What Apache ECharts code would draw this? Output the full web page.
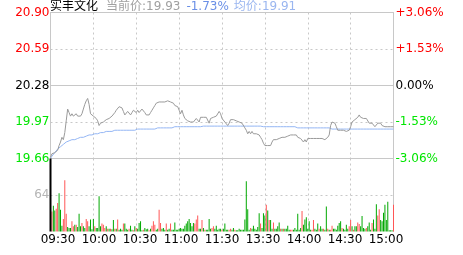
<!DOCTYPE html>
<html><head><meta charset="utf-8">
<script src="https://cdn.jsdelivr.net/npm/echarts@6/dist/echarts.min.js"></script>
<style>html,body{margin:0;padding:0;background:#fff}#c{width:463px;height:255px}</style>
</head><body><div id="c"></div>
<script>
const stockName = '实丰文化';
const prevClose = 20.28;
const priceTicks = [19.66, 19.97, 20.28, 20.59, 20.90];
const pctTicks = [-3.06, -1.53, 0, 1.53, 3.06];
const volTicks = [0, 64, 128];
const timeTicks = ['09:30','10:00','10:30','11:00','11:30','13:30','14:00','14:30','15:00'];

const price = [
19.67,19.70,19.70,19.71,19.71,19.73,19.77,19.80,19.84,19.82,
19.88,19.98,20.08,20.05,20.02,20.04,20.02,20.03,20.04,20.02,
20.03,20.02,20.04,20.08,20.12,20.15,20.17,20.12,20.04,20.03,
20.02,20.01,20.00,19.98,19.94,19.96,19.97,19.97,19.98,19.99,
19.99,20.00,20.01,20.02,20.03,20.05,20.07,20.08,20.10,20.11,
20.09,20.06,20.03,20.04,20.06,20.05,20.03,20.05,20.07,20.06,
20.05,20.07,20.05,20.06,20.08,20.07,20.05,20.03,20.02,20.03,
20.05,20.07,20.09,20.11,20.13,20.14,20.14,20.13,20.14,20.15,
20.14,20.15,20.15,20.14,20.14,20.15,20.13,20.11,20.11,20.10,
20.07,20.04,20.07,20.03,20.00,19.99,19.98,19.97,19.97,19.98,
19.97,19.98,20.00,20.00,19.97,20.01,20.01,20.01,20.00,20.01,
20.00,19.96,20.00,20.01,20.01,20.02,20.02,20.03,20.06,20.04,
20.00,19.99,19.97,19.96,19.94,19.96,19.99,19.99,19.99,19.98,
19.98,19.97,19.97,19.97,19.96,19.96,19.92,19.90,19.87,19.89,
19.87,19.89,19.87,19.87,19.87,19.86,19.86,19.84,19.82,19.79,
19.77,19.76,19.77,19.77,19.77,19.80,19.82,19.82,19.82,19.83,
19.83,19.84,19.84,19.84,19.84,19.84,19.85,19.86,19.86,19.86,
19.86,19.86,19.86,19.84,19.83,19.83,19.83,19.80,19.82,19.80,
19.83,19.83,19.83,19.82,19.83,19.83,19.83,19.84,19.83,19.83,
19.83,19.82,19.82,19.83,19.84,19.86,19.94,19.97,19.97,19.96,
19.93,19.90,19.89,19.90,19.89,19.90,19.89,19.89,19.89,19.90,
19.93,19.97,19.98,19.99,19.99,20.01,20.03,20.01,20.00,20.00,
20.00,20.00,19.99,19.96,19.97,19.96,19.96,19.93,19.94,19.96,
19.96,19.96,19.94,19.94,19.93,19.94,19.93,19.93,19.93,19.93,
19.93
];

const avgPrice = [
19.66,19.68,19.69,19.71,19.72,19.74,19.75,19.76,19.77,19.78,
19.79,19.80,19.80,19.81,19.81,19.82,19.82,19.82,19.83,19.83,
19.83,19.84,19.84,19.84,19.85,19.85,19.85,19.86,19.86,19.86,
19.86,19.87,19.87,19.87,19.87,19.88,19.88,19.88,19.88,19.89,
19.89,19.89,19.89,19.89,19.89,19.90,19.90,19.90,19.90,19.90,
19.90,19.90,19.90,19.90,19.90,19.90,19.90,19.90,19.90,19.90,
19.90,19.91,19.91,19.91,19.91,19.91,19.91,19.91,19.91,19.91,
19.91,19.91,19.91,19.91,19.91,19.92,19.92,19.92,19.92,19.92,
19.92,19.92,19.92,19.92,19.92,19.92,19.93,19.93,19.93,19.93,
19.93,19.93,19.93,19.93,19.93,19.93,19.93,19.93,19.93,19.93,
19.93,19.93,19.93,19.93,19.93,19.93,19.935,19.935,19.935,19.935,
19.935,19.935,19.935,19.935,19.935,19.935,19.935,19.935,19.935,19.935,
19.935,19.935,19.935,19.935,19.935,19.935,19.935,19.935,19.935,19.935,
19.935,19.935,19.935,19.935,19.935,19.935,19.935,19.935,19.935,19.935,
19.935,19.935,19.935,19.935,19.935,19.935,19.935,19.935,19.935,19.93,
19.93,19.93,19.93,19.93,19.93,19.93,19.93,19.93,19.93,19.93,
19.93,19.93,19.93,19.93,19.93,19.93,19.93,19.93,19.93,19.93,
19.93,19.93,19.92,19.92,19.92,19.92,19.92,19.92,19.92,19.92,
19.92,19.92,19.92,19.92,19.92,19.92,19.92,19.92,19.92,19.92,
19.92,19.92,19.92,19.92,19.92,19.92,19.91,19.91,19.91,19.91,
19.91,19.91,19.91,19.91,19.91,19.91,19.91,19.91,19.91,19.91,
19.91,19.91,19.91,19.91,19.91,19.91,19.91,19.91,19.91,19.91,
19.91,19.91,19.91,19.91,19.91,19.91,19.91,19.91,19.91,19.91,
19.91,19.91,19.91,19.91,19.91,19.91,19.91,19.91,19.91,19.91,
19.91
];

const volume = [
300,35,45,37,40,50,67,38,10,22,
90,31,8,6,6,18,9,12,12,8,
31,9,15,9,6,22,18,9,21,4,
22,9,6,6,62,9,14,12,6,9,
5,5,5,4,20,5,5,21,3,5,
3,14,14,5,3,5,10,3,2,9,
6,5,15,18,2,3,6,4,5,2,
5,10,18,12,3,5,38,15,5,6,
3,14,3,5,14,3,3,16,3,3,
5,6,5,5,10,14,18,22,15,9,
15,14,21,28,5,5,20,6,3,3,
3,22,5,6,9,5,10,3,5,5,
3,5,14,3,3,3,5,3,6,3,
2,2,5,3,3,3,21,88,39,3,
6,5,10,5,3,8,32,14,6,32,
28,47,37,20,20,5,16,5,5,9,
16,5,5,5,5,5,10,3,3,3,
3,6,3,31,3,6,36,12,21,25,
5,18,3,3,20,5,3,14,5,9,
5,5,3,44,5,3,3,10,5,5,
3,10,15,18,6,5,3,12,5,9,
20,9,3,9,9,16,13,9,27,6,
5,6,9,16,3,15,21,5,48,28,
39,20,18,33,47,20,52,2,2,2,
47
];
// 1 = up (red), -1 = down (green), 0 = opening auction (black)
const volSide = [
0,1,-1,-1,1,1,-1,-1,-1,1,
1,1,-1,-1,-1,1,1,-1,1,-1,
-1,-1,1,-1,-1,1,1,-1,-1,-1,
-1,1,-1,-1,-1,-1,1,1,1,-1,
1,-1,1,-1,-1,1,-1,1,-1,-1,
-1,1,-1,-1,-1,1,-1,-1,1,-1,
1,-1,-1,-1,-1,1,-1,-1,-1,1,
-1,1,1,1,-1,-1,1,1,-1,-1,
-1,1,-1,-1,1,-1,-1,-1,-1,-1,
-1,-1,-1,-1,-1,-1,-1,-1,-1,-1,
-1,1,1,1,-1,-1,1,-1,1,-1,
-1,-1,-1,1,1,-1,-1,-1,-1,-1,
1,-1,-1,-1,-1,1,1,-1,-1,1,
-1,-1,-1,-1,-1,-1,-1,-1,-1,-1,
1,-1,-1,-1,-1,-1,-1,1,-1,-1,
-1,1,-1,1,-1,-1,1,-1,-1,-1,
-1,1,-1,1,-1,-1,-1,-1,1,1,
-1,-1,-1,-1,-1,-1,1,-1,-1,-1,
-1,-1,-1,1,1,-1,-1,-1,1,-1,
-1,1,-1,-1,1,-1,1,1,-1,-1,
-1,-1,-1,-1,1,-1,-1,-1,-1,1,
1,-1,1,-1,-1,1,1,-1,-1,-1,
-1,1,-1,-1,-1,1,-1,-1,-1,1,
1,-1,-1,-1,-1,-1,-1,-1,-1,-1,
1
];

// minute categories 09:30-11:30, 13:01-15:00
const minutes = [];
function hm(t){const h=Math.floor(t/60),m=t%60;return (h<10?'0':'')+h+':'+(m<10?'0':'')+m;}
for (let t = 570; t <= 690; t++) minutes.push(hm(t));
for (let t = 781; t <= 900; t++) minutes.push(hm(t));

const FONT = 'DejaVu Sans, Noto Sans CJK SC, sans-serif';
const GRID = '#c8c8c8';
const DASH = [2, 3];
const RED = '#ff0000', GREEN = '#00e600';
const sideColor = {'1': '#ff5656', '-1': '#00a800', '0': '#000000'};

function levelColor(v) {
  if (v > 1e-9) return RED;
  if (v < -1e-9) return GREEN;
  return '#000000';
}

const last = price[price.length - 1];
const chg = (last - prevClose) / prevClose * 100;
const chgTxt = (chg > 0 ? '+' : '') + chg.toFixed(2) + '%';
const avgLast = avgPrice[avgPrice.length - 1];

const chart = echarts.init(document.getElementById('c'));
const catAxisBase = (gi) => ({
  type: 'category', gridIndex: gi, data: minutes, boundaryGap: false,
  axisLine: {show: false}, axisTick: {show: false}, axisLabel: {show: false},
  splitLine: {show: true, interval: (i) => i % 30 === 0, lineStyle: {color: GRID, type: DASH, width: 1}}
});

chart.setOption({
  animation: false,
  title: {
    left: 50, top: 1, padding: 0,
    text: '{n|' + stockName + '}{p|当前价:' + last.toFixed(2) + '}{c|' + chgTxt + '}{a|均价:' + avgLast.toFixed(2) + '}',
    textStyle: {
      fontSize: 12, fontWeight: 'normal', fontFamily: FONT,
      rich: {
        n: {color: '#000', fontSize: 12, fontFamily: FONT},
        p: {color: '#a0a0a0', fontSize: 12, fontFamily: FONT, padding: [0, 0, 0, 8]},
        c: {color: '#6a8fe6', fontSize: 12, fontFamily: FONT, padding: [0, 0, 0, 6]},
        a: {color: '#9ab6f0', fontSize: 12, fontFamily: FONT, padding: [0, 0, 0, 5]}
      }
    }
  },
  grid: [
    {left: 50.5, top: 12.5, width: 343, height: 146},
    {left: 50.5, top: 158.5, width: 343, height: 73},
    {left: 58, top: 231, width: 328, height: 1}
  ],
  xAxis: [
    catAxisBase(0),
    catAxisBase(1),
    {type: 'category', gridIndex: 2, data: timeTicks, boundaryGap: false,
     axisLine: {show: false}, axisTick: {show: false}, splitLine: {show: false},
     axisLabel: {interval: 0, margin: 2, color: '#000', fontFamily: FONT, fontSize: 12, showMinLabel: true, showMaxLabel: true}},
    {type: 'category', gridIndex: 1, data: minutes, boundaryGap: false, show: false}
  ],
  yAxis: [
    {type: 'value', gridIndex: 0, position: 'left',
     min: priceTicks[0], max: priceTicks[priceTicks.length - 1], interval: priceTicks[1] - priceTicks[0],
     axisLine: {show: true, lineStyle: {color: GRID}}, axisTick: {show: false},
     axisLabel: {margin: 1, fontFamily: FONT, fontSize: 12,
       formatter: (v) => Number(v).toFixed(2),
       color: (v) => levelColor(parseFloat(v) - prevClose)},
     splitLine: {show: true, lineStyle: {color: GRID, type: DASH}}},
    {type: 'value', gridIndex: 0, position: 'right',
     min: pctTicks[0], max: pctTicks[pctTicks.length - 1], interval: pctTicks[1] - pctTicks[0],
     axisLine: {show: true, lineStyle: {color: GRID}}, axisTick: {show: false},
     axisLabel: {margin: 2, fontFamily: FONT, fontSize: 12,
       formatter: (v) => { const n = Number(v); return (n > 1e-9 ? '+' : '') + (Math.abs(n) < 1e-9 ? 0 : n).toFixed(2) + '%'; },
       color: (v) => levelColor(parseFloat(v))},
     splitLine: {show: false}},
    {type: 'value', gridIndex: 1, position: 'left',
     min: volTicks[0], max: volTicks[2], interval: volTicks[1],
     axisLine: {show: false}, axisTick: {show: false},
     axisLabel: {margin: 1, fontFamily: FONT, fontSize: 12, color: '#b4b4b4',
       formatter: (v) => Number(v) === volTicks[1] ? String(volTicks[1]) : ''},
     splitLine: {show: false}},
    {type: 'value', gridIndex: 1, position: 'right',
     min: volTicks[0], max: volTicks[2], interval: volTicks[1],
     axisLine: {show: true, lineStyle: {color: GRID}}, axisTick: {show: false},
     axisLabel: {show: false}, splitLine: {show: false}},
    {type: 'value', gridIndex: 2, show: false}
  ],
  series: [
    {type: 'line', xAxisIndex: 0, yAxisIndex: 0, data: avgPrice, showSymbol: false, symbol: 'none',
     lineStyle: {color: '#94b6f4', width: 1}, silent: true, z: 3},
    {type: 'line', xAxisIndex: 0, yAxisIndex: 0, data: price, showSymbol: false, symbol: 'none',
     lineStyle: {color: '#9a9a9a', width: 1}, silent: true, z: 4,
     markLine: {silent: true, symbol: ['none', 'none'], label: {show: false},
       lineStyle: {color: GRID, type: 'solid', width: 1},
       data: [{yAxis: priceTicks[0]}, {yAxis: prevClose}, {yAxis: priceTicks[priceTicks.length - 1]}]}},
    {type: 'bar', xAxisIndex: 1, yAxisIndex: 2, barWidth: 1, silent: true,
     data: volume.map((v, i) => volSide[i] === 0 ? '-' : {value: v, itemStyle: {color: sideColor[String(volSide[i])]}}),
     markLine: {silent: true, symbol: ['none', 'none'], label: {show: false},
       lineStyle: {color: GRID, type: DASH, width: 1}, z: 1,
       data: [{yAxis: volTicks[1]}]}},
    // opening-auction bar (volSide 0) on its own hidden axis so it can be drawn a little wider
    {type: 'bar', xAxisIndex: 3, yAxisIndex: 2, barWidth: 2, silent: true, z: 5,
     data: volume.map((v, i) => volSide[i] === 0 ? {value: v, itemStyle: {color: sideColor['0']}} : '-')}
  ]
});
</script>
</body></html>
